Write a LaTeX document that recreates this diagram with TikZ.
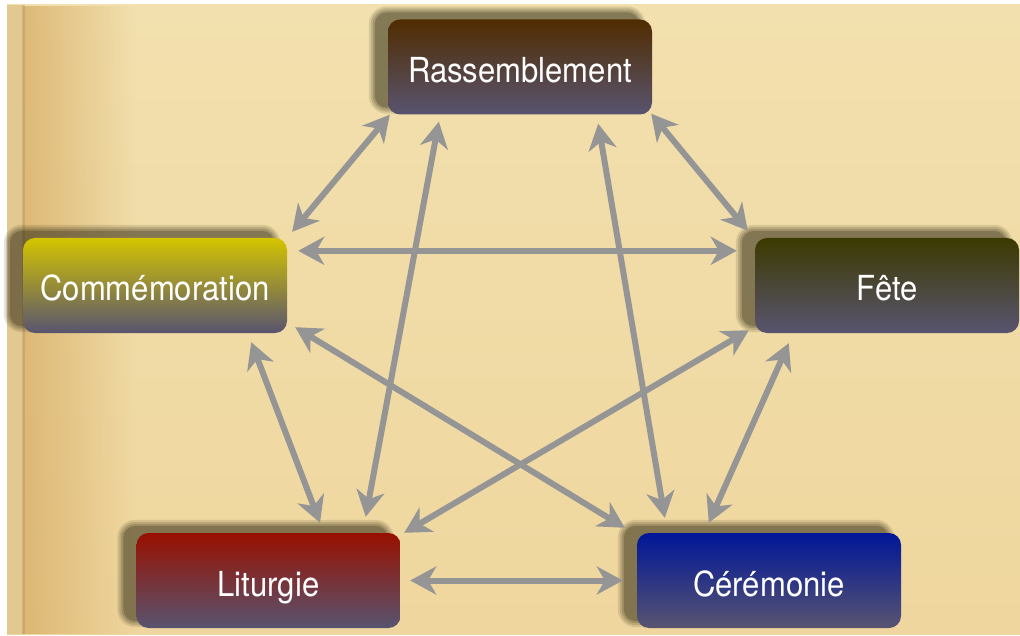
\documentclass[tikz,border=0pt]{standalone}
\usepackage{fontspec}
\setmainfont{TeX Gyre Heros}[FakeStretch=0.9]
\usetikzlibrary{arrows.meta,calc,fadings}
\pgfdeclarelayer{bgpaper}
\pgfdeclarelayer{bgshadow}
\pgfsetlayers{bgpaper,bgshadow,main}
\definecolor{papertop}{HTML}{F2E0AE}
\definecolor{paperbot}{HTML}{EFD69E}
\definecolor{golden}{HTML}{D8B06A}
\definecolor{edgestrip}{HTML}{E2C992}
\definecolor{shadowcol}{RGB}{40,35,12}
\definecolor{arrowgray}{HTML}{959595}
\definecolor{bottomgray}{RGB}{88,84,112}
\definecolor{cR}{RGB}{80,44,0}
\definecolor{cC}{RGB}{212,196,0}
\definecolor{cF}{RGB}{60,58,0}
\definecolor{cL}{RGB}{152,16,0}
\definecolor{cE}{RGB}{0,22,152}
\begin{document}
\begin{tikzpicture}[x=1pt,y=-1pt,
  box/.style={rounded corners=12pt, minimum width=264pt, minimum height=95pt,
    inner sep=0pt, text=white, text height=31pt, text depth=0pt,
    font=\fontsize{34.5}{40}\selectfont, bottom color=bottomgray},
  link/.style={draw=arrowgray, line width=6pt,
    >={Stealth[length=26pt,width=28pt,inset=8pt]}, <->}
]
\useasboundingbox (0,0) rectangle (1020,636);
\begin{pgfonlayer}{bgpaper}
  \fill[white] (0,0) rectangle (1020,636);
  \shade[top color=papertop, bottom color=paperbot] (7,5) rectangle (1020,634);
  \fill[edgestrip] (7,5) rectangle (23,634);
  \fill[golden, path fading=east, fill opacity=0.8] (23,5) rectangle (135,634);
  \fill[golden!80!black, opacity=0.35] (22,5) rectangle (25,634);
\end{pgfonlayer}

\node[box, top color=cR] (R) at (520,67) {Rassemblement};
\node[box, top color=cC] (C) at (155,285.5) {Commémoration};
\node[box, top color=cF] (F) at (887,285.5) {Fête};
\node[box, top color=cL] (L) at (268.5,580.5) {Liturgie};
\node[box, top color=cE] (E) at (769,580.5) {Cérémonie};

\begin{pgfonlayer}{bgshadow}
  \foreach \n in {R,C,F,L,E} {
    \foreach \g/\o in {6/0.12, 4/0.15, 2/0.18, 0/0.25} {
      \fill[shadowcol, fill opacity=\o, rounded corners=12pt+\g pt]
        ($(\n.south west)+(-13-\g,-7+\g)$) rectangle ($(\n.north east)+(-13+\g,-7-\g)$);
    }
  }
\end{pgfonlayer}

\draw[link] ($(R.south west)+(2,0)$) -- ($(C.north east)+(5,-6)$);
\draw[link] ($(R.south east)+(-1,-1)$) -- ($(F.north west)+(-7,-7)$);
\draw[link] ($(C.north east)+(11,13)$) -- ($(F.north west)+(-18,13)$);
\draw[link] ($(R.south west)+(51,7)$) -- ($(L.north east)+(-35,-16)$);
\draw[link] ($(R.south east)+(-54,9)$) -- ($(E.north west)+(28,-15)$);
\draw[link] ($(C.south east)+(-36,9)$) -- ($(L.north)+(51.5,-10)$);
\draw[link] ($(C.south east)+(8,-6)$) -- ($(E.north west)+(-12,-5)$);
\draw[link] ($(F.south west)+(-6,-3)$) -- ($(L.north east)+(3.5,0)$);
\draw[link] ($(F.south west)+(34,10)$) -- ($(E.north west)+(72,-10)$);
\draw[link] ($(L.east)+(9.5,0)$) -- ($(E.west)+(-14,0)$);
\end{tikzpicture}
\end{document}
